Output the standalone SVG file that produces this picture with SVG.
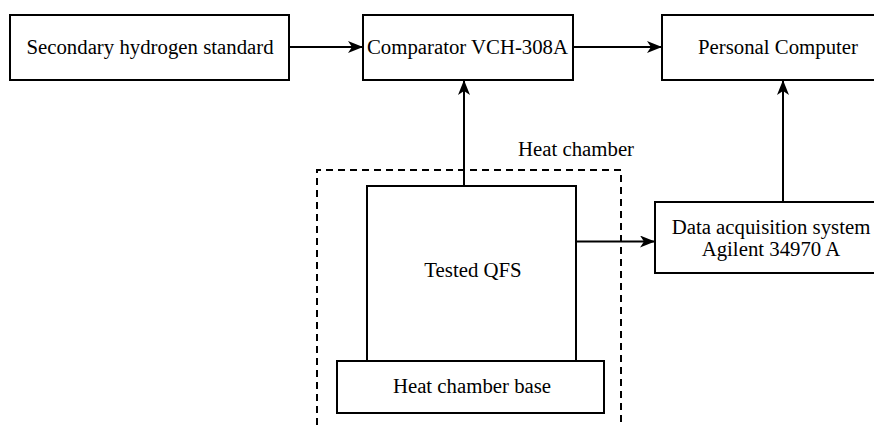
<svg xmlns="http://www.w3.org/2000/svg" width="874" height="425" viewBox="0 0 874 425">
<style>
.box{fill:#fff;stroke:#000;stroke-width:2}
.t{font-family:"Liberation Serif","Times New Roman",serif;font-size:20.8px;fill:#000}
.c{text-anchor:middle}
.ln{fill:none;stroke:#000;stroke-width:2}
</style>
<defs>
<marker id="ah" viewBox="0 0 16 12" refX="15" refY="6" markerWidth="16" markerHeight="12" markerUnits="userSpaceOnUse" orient="auto">
<path d="M0,0 L15,6 L0,12 L4,6 z" fill="#000"/>
</marker>
</defs>
<g id="heat-chamber">
<path d="M317,425 V170 H621 V425" fill="none" stroke="#000" stroke-width="2" stroke-dasharray="7,5"/>
<text class="t" x="518" y="156">Heat chamber</text>
</g>
<g id="connectors">
<line class="ln" x1="289" y1="47" x2="363" y2="47" marker-end="url(#ah)"/>
<line class="ln" x1="573" y1="47" x2="662" y2="47" marker-end="url(#ah)"/>
<line class="ln" x1="464" y1="186" x2="464" y2="80" marker-end="url(#ah)"/>
<line class="ln" x1="576" y1="241.5" x2="655" y2="241.5" marker-end="url(#ah)"/>
<line class="ln" x1="783" y1="202" x2="783" y2="80" marker-end="url(#ah)"/>
</g>
<g id="secondary">
<rect class="box" x="10" y="15" width="279" height="65"/>
<text class="t c" x="150" y="54">Secondary hydrogen standard</text>
</g>
<g id="comparator">
<rect class="box" x="363" y="15" width="210" height="65"/>
<text class="t" x="367" y="54" textLength="201" lengthAdjust="spacing">Comparator VCH-308A</text>
</g>
<g id="pc">
<rect class="box" x="662" y="15" width="232" height="65"/>
<text class="t c" x="778" y="54">Personal Computer</text>
</g>
<g id="qfs">
<rect class="box" x="367" y="186" width="209" height="175"/>
<text class="t c" x="473" y="277">Tested QFS</text>
</g>
<g id="base">
<rect class="box" x="337" y="361" width="267" height="52"/>
<text class="t c" x="472" y="393">Heat chamber base</text>
</g>
<g id="daq">
<rect class="box" x="655" y="202" width="232" height="71"/>
<text class="t c" x="771" y="234">Data acquisition system</text>
<text class="t c" x="771" y="256">Agilent 34970 A</text>
</g>
</svg>
